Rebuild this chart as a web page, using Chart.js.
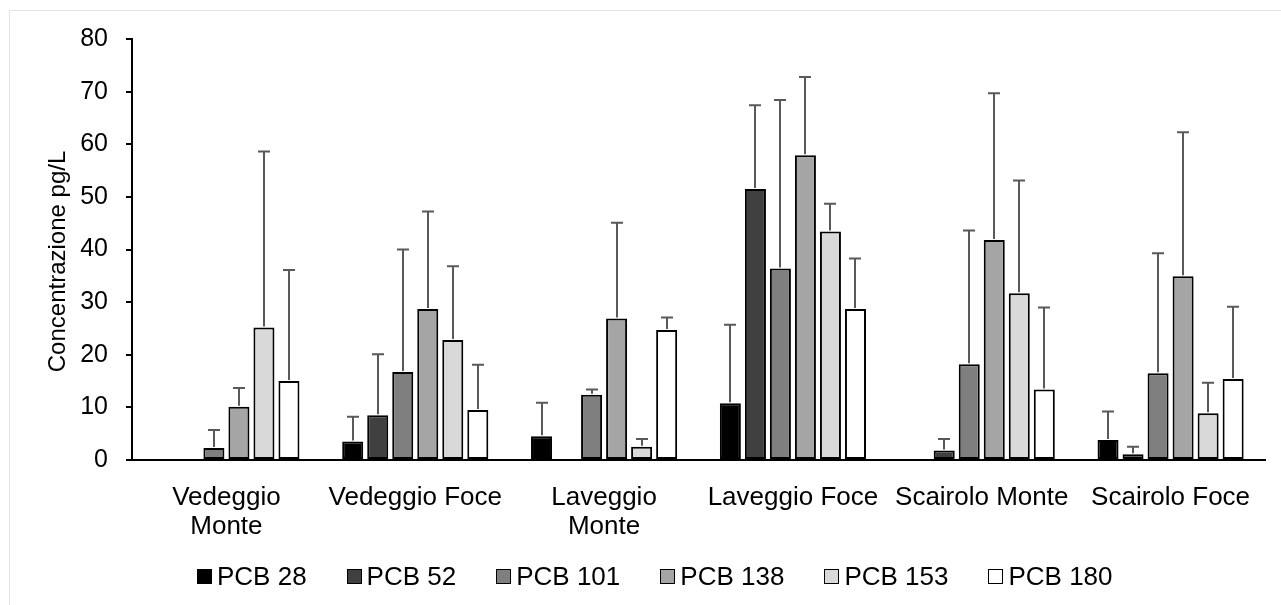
<!DOCTYPE html>
<html>
<head>
<meta charset="utf-8">
<script src="https://cdn.jsdelivr.net/npm/chart.js@4.4.1/dist/chart.umd.min.js"></script>
<style>
  html, body { margin: 0; padding: 0; background: #fff; overflow: hidden; }
  #wrap { position: relative; width: 1281px; height: 605px; }
  #frame { position: absolute; left: 9px; top: 10px; width: 1300px; height: 620px;
           border: 1px solid #e4e4e4; box-sizing: border-box; pointer-events: none; }
  canvas { position: absolute; left: 0; top: 0; }
  #legend { position: absolute; left: 197px; top: 561px; height: 30px; display: flex;
            align-items: center; font-family: "Liberation Sans", Arial, sans-serif;
            font-size: 26px; color: #000; white-space: nowrap; }
  .item { display: flex; align-items: center; margin-right: 40px; }
  .item:last-child { margin-right: 0; }
  .box { width: 15px; height: 15px; box-sizing: border-box; border: 1.5px solid #000; margin-right: 5px; }
</style>
</head>
<body>
<div id="wrap">
  <canvas id="c" width="1281" height="605"></canvas>
  <div id="frame"></div>
  <div id="legend"></div>
</div>
<script>
// Sampling sites
const categories = [["Vedeggio", "Monte"], "Vedeggio Foce", ["Laveggio", "Monte"],
                    "Laveggio Foce", "Scairolo Monte", "Scairolo Foce"];

// Mean concentrations (pg/L); null = not detected
const pcb28  = [null, 3.5, 4.5, 10.8, null, 3.8];
const pcb52  = [null, 8.5, null, 51.5, 1.8, 1.1];
const pcb101 = [2.3, 16.7, 12.4, 36.4, 18.2, 16.5];
const pcb138 = [10.1, 28.7, 26.9, 57.9, 41.8, 34.9];
const pcb153 = [25.2, 22.8, 2.5, 43.4, 31.7, 8.9];
const pcb180 = [15.0, 9.5, 24.7, 28.7, 13.4, 15.4];

// Standard deviations (upper error bars)
const sd28  = [null, 4.7, 6.4, 14.9, null, 5.4];
const sd52  = [null, 11.6, null, 15.9, 2.2, 1.4];
const sd101 = [3.4, 23.3, 1.0, 32.0, 25.4, 22.8];
const sd138 = [3.6, 18.5, 18.2, 14.9, 27.9, 27.4];
const sd153 = [33.4, 14.0, 1.5, 5.3, 21.4, 5.8];
const sd180 = [21.1, 8.6, 2.4, 9.6, 15.6, 13.7];

const yTicks = [0, 10, 20, 30, 40, 50, 60, 70, 80];
const yTitle = "Concentrazione pg/L";

const seriesNames = ["PCB 28", "PCB 52", "PCB 101", "PCB 138", "PCB 153", "PCB 180"];
const seriesValues = [pcb28, pcb52, pcb101, pcb138, pcb153, pcb180];
const seriesErrors = [sd28, sd52, sd101, sd138, sd153, sd180];
const seriesFill = ["#000000", "#404040", "#7f7f7f", "#a5a5a5", "#d9d9d9", "#ffffff"];

const FONT = "'Liberation Sans', Arial, sans-serif";

const datasets = seriesNames.map((name, i) => ({
  label: name,
  data: seriesValues[i],
  errors: seriesErrors[i],
  backgroundColor: seriesFill[i],
  borderColor: "#000000",
  borderWidth: 2,
  borderSkipped: false,
  categoryPercentage: 0.795,
  barPercentage: 0.84
}));

// Upper-only error bars with caps
const errorBars = {
  id: "errorBars",
  afterDatasetsDraw(chart) {
    const ctx = chart.ctx;
    const y = chart.scales.y;
    ctx.save();
    ctx.strokeStyle = "#595959";
    ctx.lineWidth = 2;
    chart.data.datasets.forEach((ds, di) => {
      const meta = chart.getDatasetMeta(di);
      meta.data.forEach((bar, k) => {
        const v = ds.data[k], e = ds.errors[k];
        if (v == null || e == null) return;
        const top = y.getPixelForValue(v + e);
        const x = Math.round(bar.x);
        ctx.beginPath();
        ctx.moveTo(x, bar.y - 1);
        ctx.lineTo(x, top);
        ctx.moveTo(x - 6, top);
        ctx.lineTo(x + 6, top);
        ctx.stroke();
      });
    });
    ctx.restore();
  }
};

// Rotated value-axis title, placed slightly below the plot's mid-height
const axisTitle = {
  id: "axisTitle",
  afterDraw(chart) {
    const ctx = chart.ctx;
    const area = chart.chartArea;
    ctx.save();
    ctx.translate(58, (area.top + area.bottom) / 2 + 12);
    ctx.rotate(-Math.PI / 2);
    ctx.font = "24px " + FONT;
    ctx.fillStyle = "#000";
    ctx.textAlign = "center";
    ctx.textBaseline = "middle";
    ctx.fillText(yTitle, 0, 0);
    ctx.restore();
  }
};

const chart = new Chart(document.getElementById("c"), {
  type: "bar",
  data: { labels: categories, datasets },
  plugins: [errorBars, axisTitle],
  options: {
    responsive: false,
    animation: false,
    layout: { padding: { left: 0, right: 16, top: 39, bottom: 0 } },
    plugins: { legend: { display: false }, tooltip: { enabled: false } },
    scales: {
      x: {
        grid: { display: false },
        border: { display: true, color: "#000", width: 2 },
        ticks: {
          color: "#000", autoSkip: false, maxRotation: 0, minRotation: 0, padding: 16,
          font: { family: FONT, size: 26, lineHeight: 1.1 }
        },
        afterFit(scale) { scale.height = 145; }
      },
      y: {
        min: 0, max: 80,
        afterBuildTicks(scale) { scale.ticks = yTicks.map(v => ({ value: v })); },
        grid: { display: true, drawOnChartArea: false, drawTicks: true, tickLength: 6,
                color: "#000", lineWidth: 2 },
        border: { display: true, color: "#000", width: 2 },
        ticks: { color: "#000", padding: 18, font: { family: FONT, size: 25 } },
        afterFit(scale) { scale.width = 132; }
      }
    }
  }
});

// Legend built from the chart's datasets
const legend = document.getElementById("legend");
chart.data.datasets.forEach(ds => {
  const item = document.createElement("div");
  item.className = "item";
  const box = document.createElement("span");
  box.className = "box";
  box.style.background = ds.backgroundColor;
  const txt = document.createElement("span");
  txt.textContent = ds.label;
  item.appendChild(box);
  item.appendChild(txt);
  legend.appendChild(item);
});
</script>
</body>
</html>
